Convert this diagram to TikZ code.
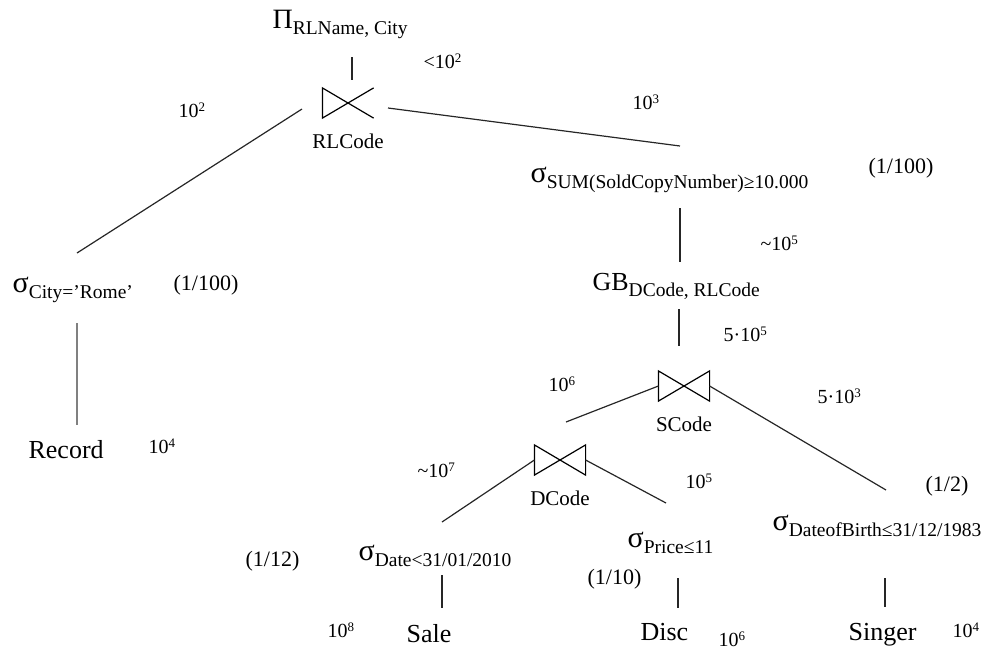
\documentclass[tikz,border=0pt]{standalone}
\usepackage{fontspec}
\setmainfont{Liberation Serif}
\usetikzlibrary{positioning}

\newcommand{\sbs}[1]{\raisebox{-6pt}{\fontsize{19.5}{20}\selectfont #1}}
\newcommand{\pw}[1]{\raisebox{6pt}{\fontsize{13}{13}\selectfont #1}}
\newcommand{\sg}{{\fontsize{30}{30}\selectfont σ}}
\newcommand{\pj}{{\fontsize{28}{28}\selectfont Π}}

\tikzset{
  op/.style={anchor=base west, inner sep=0pt, font=\fontsize{26}{28}\selectfont},
  card/.style={anchor=base west, inner sep=0pt, font=\fontsize{20}{22}\selectfont},
  sel/.style={anchor=base west, inner sep=0pt, font=\fontsize{22}{24}\selectfont},
  tie/.style={minimum width=50pt, minimum height=29pt, inner sep=0pt},
  tielab/.style={inner sep=0pt, below=15pt of #1, font=\fontsize{21}{22}\selectfont},
  edge/.style={line width=1.2pt, black!85},
}

\begin{document}
\begin{tikzpicture}[x=1pt, y=-1pt, line width=1.2pt]
\useasboundingbox (0,0) rectangle (990,649);
% projection and top join
\node[op] (pi) at (272,28) {\pj\sbs{RLName, City}};
\node[tie] (jRL) at (348,103) {};
\draw (jRL.south east) -- (jRL.north west) -- (jRL.south west) -- (jRL.north east);
\node[tielab=jRL] (jRLl) {RLCode};
% left branch
\node[op] (city) at (12,292) {\sg\sbs{City=’Rome’}};
\node[op] (record) at (28,458) {Record};
% right branch
\node[op] (sum) at (530,182) {\sg\sbs{SUM(SoldCopyNumber)≥10.000}};
\node[op] (gb) at (592,290) {GB\sbs{DCode, RLCode}};
\node[tie] (jS) at (684,386) {};
\draw (jS.north west) -- (jS.south west) -- (jS.north east) -- (jS.south east) -- cycle;
\node[tielab=jS] (jSl) {SCode};
\node[tie] (jD) at (560,460) {};
\draw (jD.north west) -- (jD.south west) -- (jD.north east) -- (jD.south east) -- cycle;
\node[tielab=jD] (jDl) {DCode};
% selections and relations at the bottom
\node[op] (date) at (358,560) {\sg\sbs{Date<31/01/2010}};
\node[op] (price) at (627,547) {\sg\sbs{Price≤11}};
\node[op] (birth) at (772,530) {\sg\sbs{DateofBirth≤31/12/1983}};
\node[op] (sale) at (406,642) {Sale};
\node[op] (disc) at (640,640) {Disc};
\node[op] (singer) at (848,640) {Singer};
% cardinalities
\node[card] (n1) at (423,68) {<10\pw{2}};
\node[card] (n2) at (178,117) {10\pw{2}};
\node[card] (n3) at (632,109) {10\pw{3}};
\node[card] (n4) at (760,250) {\textasciitilde10\pw{5}};
\node[card] (n5) at (148,453) {10\pw{4}};
\node[card] (n6) at (723,341) {5·10\pw{5}};
\node[card] (n7) at (548,391) {10\pw{6}};
\node[card] (n8) at (817,403) {5·10\pw{3}};
\node[card] (n9) at (417,477) {\textasciitilde10\pw{7}};
\node[card] (n10) at (685,488) {10\pw{5}};
\node[card] (n11) at (327,637) {10\pw{8}};
\node[card] (n12) at (718,646) {10\pw{6}};
\node[card] (n13) at (952,637) {10\pw{4}};
% selectivities
\node[sel] (f1) at (868,173) {(1/100)};
\node[sel] (f2) at (173,290) {(1/100)};
\node[sel] (f3) at (925,491) {(1/2)};
\node[sel] (f4) at (245,566) {(1/12)};
\node[sel] (f5) at (587,584) {(1/10)};
% connector ends
\coordinate (pi-s) at (352,57);
\coordinate (jRL-n) at (352,80);
\coordinate (jRL-w) at (302,109);
\coordinate (jRL-e) at (388,108);
\coordinate (city-n) at (77,253);
\coordinate (city-s) at (77,323);
\coordinate (record-n) at (77,425);
\coordinate (sum-n) at (680,146);
\coordinate (sum-s) at (680,208);
\coordinate (gb-n) at (680,262);
\coordinate (gb-s) at (679,309);
\coordinate (jS-n) at (679,346);
\coordinate (jD-n) at (566,422);
\coordinate (birth-n) at (886,490);
\coordinate (date-n) at (442,522);
\coordinate (price-n) at (666,503);
\coordinate (date-s) at (442,575);
\coordinate (sale-n) at (442,608);
\coordinate (price-s) at (678,578);
\coordinate (disc-n) at (678,608);
\coordinate (birth-s) at (885,578);
\coordinate (singer-n) at (885,607);
% connectors
\draw[edge] (pi-s) -- (jRL-n);
\draw[edge] (jRL-w) -- (city-n);
\draw[edge] (jRL-e) -- (sum-n);
\draw[line width=2.6pt, gray] (city-s) -- (record-n);
\draw[edge] (sum-s) -- (gb-n);
\draw[edge] (gb-s) -- (jS-n);
\draw[edge] (jS.west) -- (jD-n);
\draw[edge] (jS.east) -- (birth-n);
\draw[edge] (jD.west) -- (date-n);
\draw[edge] (jD.east) -- (price-n);
\draw[edge] (date-s) -- (sale-n);
\draw[edge] (price-s) -- (disc-n);
\draw[edge] (birth-s) -- (singer-n);
\end{tikzpicture}
\end{document}
